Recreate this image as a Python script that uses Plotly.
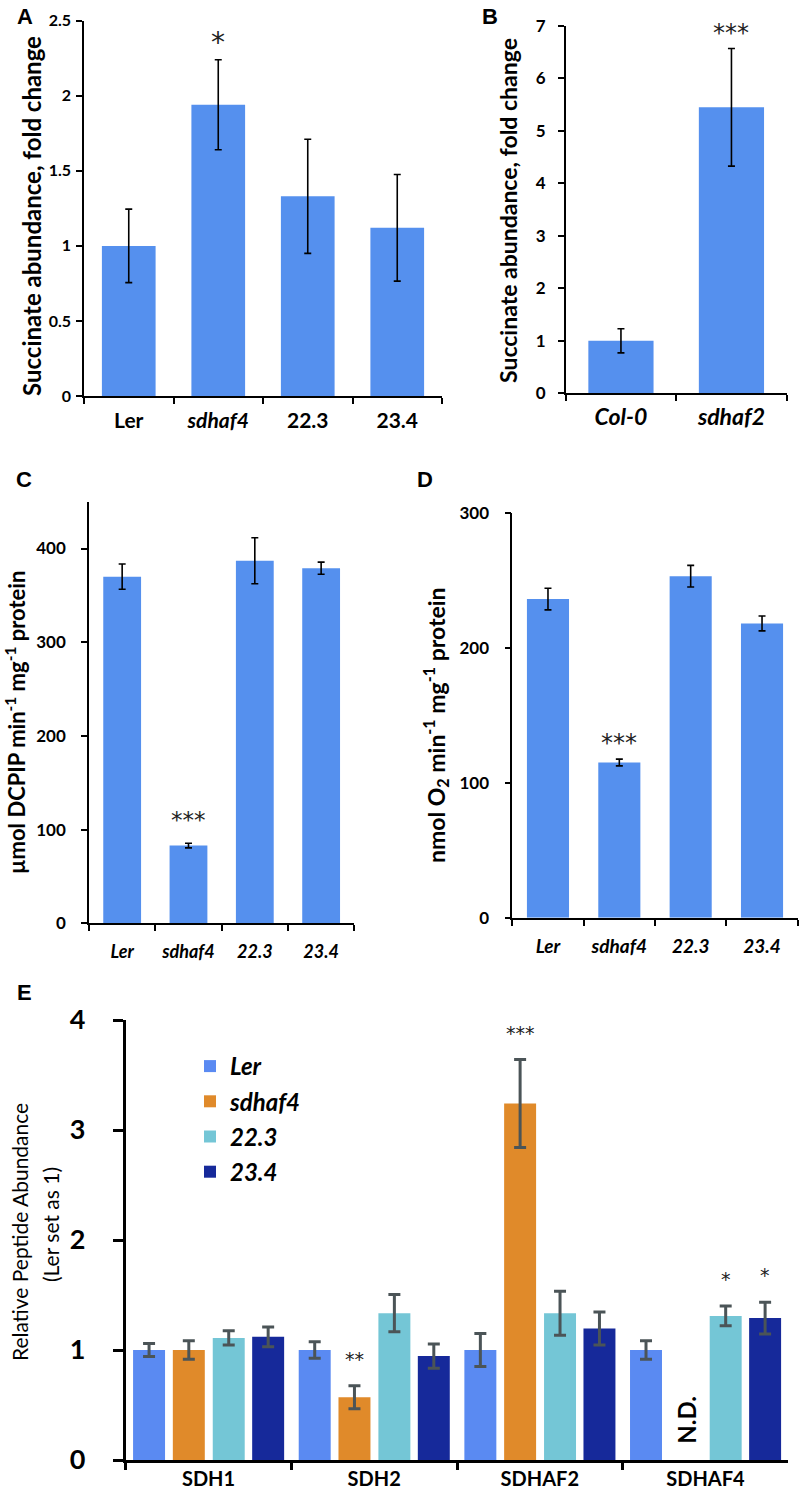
import plotly.graph_objects as go

W, H = 800, 1490
FONT = "Lato"
STAR_FONT = "DejaVu Sans"
BLUE = "#5590EE"

# ---------------- data ----------------
a_cats = ["Ler", "sdhaf4", "22.3", "23.4"]
a_vals = [1.0, 1.94, 1.33, 1.12]
a_err = [0.245, 0.30, 0.38, 0.355]
a_sig = ["", "*", "", ""]

b_cats = ["Col-0", "sdhaf2"]
b_vals = [1.0, 5.45]
b_err = [0.23, 1.12]
b_sig = ["", "***"]

c_cats = ["Ler", "sdhaf4", "22.3", "23.4"]
c_vals = [370, 83, 387, 379]
c_err = [13.5, 2.5, 24.5, 6.5]
c_sig = ["", "***", "", ""]

d_cats = ["Ler", "sdhaf4", "22.3", "23.4"]
d_vals = [236, 115, 253, 218]
d_err = [8, 2.5, 8, 5.5]
d_sig = ["", "***", "", ""]

e_cats = ["SDH1", "SDH2", "SDHAF2", "SDHAF4"]
e_series = ["Ler", "sdhaf4", "22.3", "23.4"]
e_ler = [1.0, 1.0, 1.0, 1.0]
e_ler_err = [0.06, 0.075, 0.15, 0.085]
e_sdhaf4 = [1.0, 0.57, 3.24, None]
e_sdhaf4_err = [0.085, 0.105, 0.40, None]
e_223 = [1.11, 1.335, 1.335, 1.31]
e_223_err = [0.065, 0.17, 0.20, 0.09]
e_234 = [1.12, 0.945, 1.195, 1.29]
e_234_err = [0.09, 0.11, 0.15, 0.145]
e_sig = {
    "sdhaf4": ["", "**", "***", ""],
    "22.3": ["", "", "", "*"],
    "23.4": ["", "", "", "*"],
}
e_colors = ["#5A8AF2", "#E08A2A", "#74C6D6", "#16299A"]

# ---------------- helpers ----------------
def px_x(p):
    return p / W

def px_y(p):
    return 1 - p / H

fig = go.Figure()

panels = {
    "A": ("", (84, 442), (396, 20.7)),
    "B": ("2", (565.7, 786.7), (393.3, 26)),
    "C": ("3", (89, 354.3), (923.3, 501.7)),
    "D": ("4", (512.3, 797.7), (917.7, 512.7)),
    "E": ("5", (125.7, 788.3), (1460, 1020)),
}

layout = dict(
    width=W, height=H, margin=dict(l=0, r=0, t=0, b=0, autoexpand=False),
    paper_bgcolor="white", plot_bgcolor="white",
    barmode="overlay", showlegend=True,
    font=dict(family=FONT, color="black"),
)

annotations = []

def fmt_label(c, italic):
    return f"<i>{c}</i>" if italic else c


def add_simple(key, cats, vals, err, sig, yrange, dtick, italic_flags, ytick_size,
               xtick_size, ystandoff, xstandoff, star_size, star_shift, bar_w):
    ax, (x0, x1), (yb, yt) = panels[key]
    xa = "x" + ax
    ya = "y" + ax
    fig.add_trace(go.Bar(
        x=cats, y=vals, xaxis=xa, yaxis=ya, width=bar_w,
        marker=dict(color=BLUE, line=dict(width=0)),
        error_y=dict(type="data", array=err, visible=True, color="black",
                     thickness=1.6, width=3.5),
        showlegend=False, hoverinfo="skip",
    ))
    xname = "xaxis" + ax
    yname = "yaxis" + ax
    layout[xname] = dict(
        domain=[px_x(x0), px_x(x1)], anchor=ya, type="category",
        range=[-0.5, len(cats) - 0.5], tickson="boundaries",
        tickmode="array", tickvals=cats,
        ticktext=[fmt_label(c, f) for c, f in zip(cats, italic_flags)],
        ticks="outside", ticklen=6, tickwidth=1.6, tickcolor="black",
        showline=True, linecolor="black", linewidth=1.6, automargin=False,
        tickfont=dict(family=FONT, size=xtick_size, weight="bold", color="black"),
        ticklabelstandoff=xstandoff, showgrid=False, zeroline=False, fixedrange=True,
    )
    layout[yname] = dict(
        domain=[px_y(yb), px_y(yt)], anchor=xa, range=list(yrange), dtick=dtick,
        tick0=0, ticks="outside", ticklen=6, tickwidth=1.6, tickcolor="black",
        showline=True, linecolor="black", linewidth=1.6, automargin=False,
        tickfont=dict(family=FONT, size=ytick_size, weight="bold", color="black"),
        ticklabelstandoff=ystandoff, showgrid=False, zeroline=False, fixedrange=True,
    )
    for c, v, e, s in zip(cats, vals, err, sig):
        if s:
            annotations.append(dict(
                x=c, y=v + e, xref=xa, yref=ya, text=s, showarrow=False,
                yanchor="bottom", yshift=star_shift,
                font=dict(family=STAR_FONT, size=star_size, color="#222222"),
            ))


add_simple("A", a_cats, a_vals, a_err, a_sig, (0, 2.5), 0.5,
           [False, True, False, False], 16, 21, 2, 5, 28, -1, 0.6)
add_simple("B", b_cats, b_vals, b_err, b_sig, (0, 7), 1,
           [True, True], 17, 23, 9, 2, 24, 0, 0.59)
add_simple("C", c_cats, c_vals, c_err, c_sig, (0, 450), 100,
           [True, True, True, True], 17, 18, 12, 11, 23, 8, 0.57)
add_simple("D", d_cats, d_vals, d_err, d_sig, (0, 300), 100,
           [True, True, True, True], 17, 19, 12, 11, 24, 0, 0.59)

# ---------------- panel E ----------------
ax, (x0, x1), (yb, yt) = panels["E"]
e_vals = [e_ler, e_sdhaf4, e_223, e_234]
e_errs = [e_ler_err, e_sdhaf4_err, e_223_err, e_234_err]
bar_w = 0.193
centers = [-0.359, -0.119, 0.122, 0.360]
for name, vals, errs, col, cen in zip(e_series, e_vals, e_errs, e_colors, centers):
    fig.add_trace(go.Bar(
        x=e_cats, y=vals, xaxis="x5", yaxis="y5", name=f"<i>{name}</i>",
        width=bar_w, offset=cen - bar_w / 2,
        marker=dict(color=col, line=dict(width=0)),
        error_y=dict(type="data", array=errs, visible=True, color="#4B5457",
                     thickness=3, width=6),
        legendgroup=name, hoverinfo="skip",
    ))
    if name in e_sig:
        for i, (c, v, e, s) in enumerate(zip(e_cats, vals, errs, e_sig[name])):
            if s:
                annotations.append(dict(
                    x=i + cen, y=v + e, xref="x5", yref="y5", text=s,
                    showarrow=False, yanchor="bottom", yshift=14,
                    font=dict(family=STAR_FONT, size=19, color="#222222"),
                ))
    if name == "sdhaf4":
        for i, v in enumerate(vals):
            if v is None:
                annotations.append(dict(
                    x=i + cen, y=0, xref="x5", yref="y5", text="<b>N.D.</b>",
                    showarrow=False, textangle=-90, yanchor="bottom", yshift=14,
                    font=dict(family=FONT, size=24, color="black"),
                ))

layout["xaxis5"] = dict(
    domain=[px_x(x0), px_x(x1)], anchor="y5", type="category",
    range=[-0.5, 3.5], tickson="boundaries",
    ticks="outside", ticklen=7, tickwidth=3, tickcolor="black",
    showline=True, linecolor="black", linewidth=3, automargin=False,
    tickfont=dict(family=FONT, size=20, weight="bold", color="black"),
    ticklabelstandoff=-1, showgrid=False, zeroline=False, fixedrange=True,
)
layout["yaxis5"] = dict(
    domain=[px_y(yb), px_y(yt)], anchor="x5", range=[0, 4], dtick=1, tick0=0,
    ticks="outside", ticklen=10, tickwidth=3, tickcolor="black",
    showline=True, linecolor="black", linewidth=3, automargin=False,
    tickfont=dict(family=FONT, size=27, weight="bold", color="black"),
    ticklabelstandoff=22, showgrid=False, zeroline=False, fixedrange=True,
)

layout["legend"] = dict(
    x=px_x(190), y=px_y(1044), xanchor="left", yanchor="top",
    bgcolor="rgba(0,0,0,0)", traceorder="grouped", tracegroupgap=1,
    font=dict(family=FONT, size=24, weight="bold", color="black"),
    itemwidth=30,
)

# ---------------- axis titles & panel letters ----------------
def title_ann(text, xp, yp, size, bold=True):
    annotations.append(dict(
        x=px_x(xp), y=px_y(yp), xref="paper", yref="paper", text=text,
        textangle=-90, showarrow=False, xanchor="center", yanchor="middle",
        font=dict(family=FONT, size=size, color="black",
                  weight="bold" if bold else "normal"),
    ))

title_ann("Succinate abundance, fold change", 31, 216, 24)
title_ann("Succinate abundance, fold change", 508, 211, 23)
title_ann("µmol DCPIP min<sup>-1</sup> mg<sup>-1</sup> protein", 15, 723, 22)
title_ann("nmol O<sub>2</sub> min<sup>-1</sup> mg<sup>-1</sup> protein", 435, 725, 23)
title_ann("Relative Peptide Abundance", 19, 1232, 21, bold=False)
title_ann("(Ler set as 1)", 50, 1225, 21, bold=False)

for letter, xp, yp in [("A", 25, 16), ("B", 490, 16), ("C", 24, 480),
                       ("D", 425, 480), ("E", 24, 992)]:
    annotations.append(dict(
        x=px_x(xp), y=px_y(yp), xref="paper", yref="paper", text=letter,
        showarrow=False, xanchor="center", yanchor="middle",
        font=dict(family="Liberation Sans", size=22, weight="bold", color="black"),
    ))

layout["annotations"] = annotations
fig.update_layout(**layout)
fig.write_html(
    "out.html",
    config={"displayModeBar": False},
    post_script="document.body.style.margin='0';document.body.style.padding='0';",
)
